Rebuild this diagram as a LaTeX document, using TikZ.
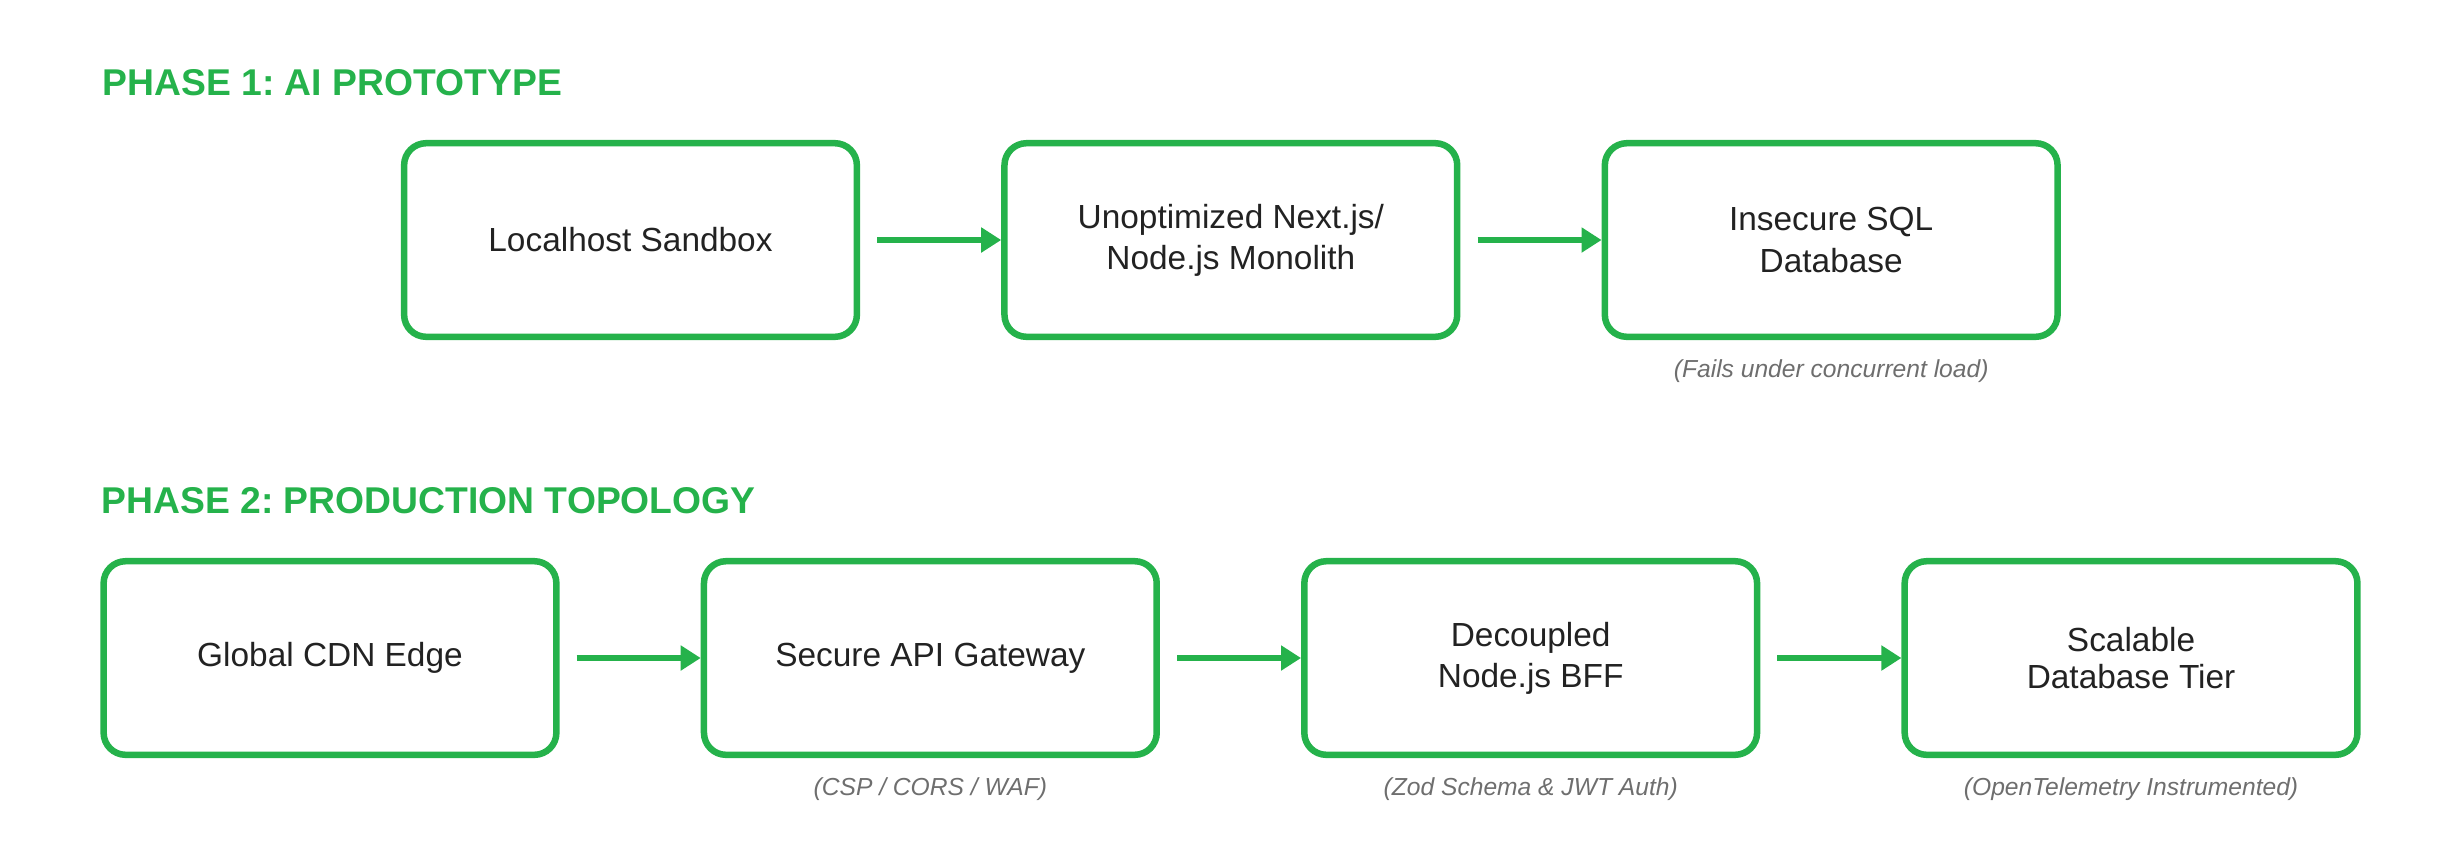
\documentclass[tikz,border=0pt]{standalone}
\usepackage{fontspec}
\setmainfont{Liberation Sans}
\usepackage{xcolor}
\usetikzlibrary{arrows.meta, positioning}
\frenchspacing

\definecolor{phasegreen}{HTML}{25B24B}
\definecolor{inktext}{HTML}{222222}
\definecolor{notegray}{HTML}{6E6E6E}

\begin{document}
\begin{tikzpicture}[
            x=0.01cm, y=-0.01cm,
            node distance=1.41cm,
            stage/.style={rectangle, draw=phasegreen, line width=1.85pt, rounded corners=0.22cm, minimum width=4.525cm, minimum height=1.935cm, align=center, text=inktext, inner sep=0pt, font=\fontsize{9.5}{11.7}\selectfont},
            phase/.style={anchor=base west, inner sep=0pt, text=phasegreen, font=\fontsize{10.6}{12}\selectfont\bfseries},
            note/.style={inner sep=0pt, text=notegray, font=\fontsize{7}{8.4}\selectfont\itshape},
            arrow/.style={line width=1.85pt, draw=phasegreen, -{Triangle[length=0.2cm, width=0.24cm]}}
        ]

        \useasboundingbox (0,0) rectangle (2460,866);

        % phase 1
        \node (phaseone) [phase] at (102,95) {PHASE 1: AI PROTOTYPE};
        \node (sandbox) [stage] at (630.5,240) {Localhost Sandbox};
        \node (monolith) [stage, right=of sandbox] {Unoptimized Next.js/\\Node.js Monolith};
        \node (sqldb) [stage, right=of monolith] {Insecure SQL\\Database};
        \node (sqlnote) [note] at ([yshift=-0.31cm]sqldb.south) {(Fails under concurrent load)};

        % phase 2
        \node (phasetwo) [phase] at (101,513) {PHASE 2: PRODUCTION TOPOLOGY};
        \node (cdn) [stage] at (330,658) {Global CDN Edge};
        \node (gateway) [stage, right=of cdn] {Secure API Gateway};
        \node (bff) [stage, right=of gateway] {Decoupled\\Node.js BFF};
        \node (dbtier) [stage, right=of bff] {Scalable\\[-1.4pt]Database Tier};
        \node (gatewaynote) [note] at ([yshift=-0.31cm]gateway.south) {(CSP / CORS / WAF)};
        \node (bffnote) [note] at ([yshift=-0.31cm]bff.south) {(Zod Schema \& JWT Auth)};
        \node (dbnote) [note] at ([yshift=-0.31cm]dbtier.south) {(OpenTelemetry Instrumented)};

        \draw [arrow] ([xshift=0.17cm]sandbox.east) -- (monolith.west);
        \draw [arrow] ([xshift=0.17cm]monolith.east) -- (sqldb.west);
        \draw [arrow] ([xshift=0.17cm]cdn.east) -- (gateway.west);
        \draw [arrow] ([xshift=0.17cm]gateway.east) -- (bff.west);
        \draw [arrow] ([xshift=0.17cm]bff.east) -- (dbtier.west);
\end{tikzpicture}
\end{document}
